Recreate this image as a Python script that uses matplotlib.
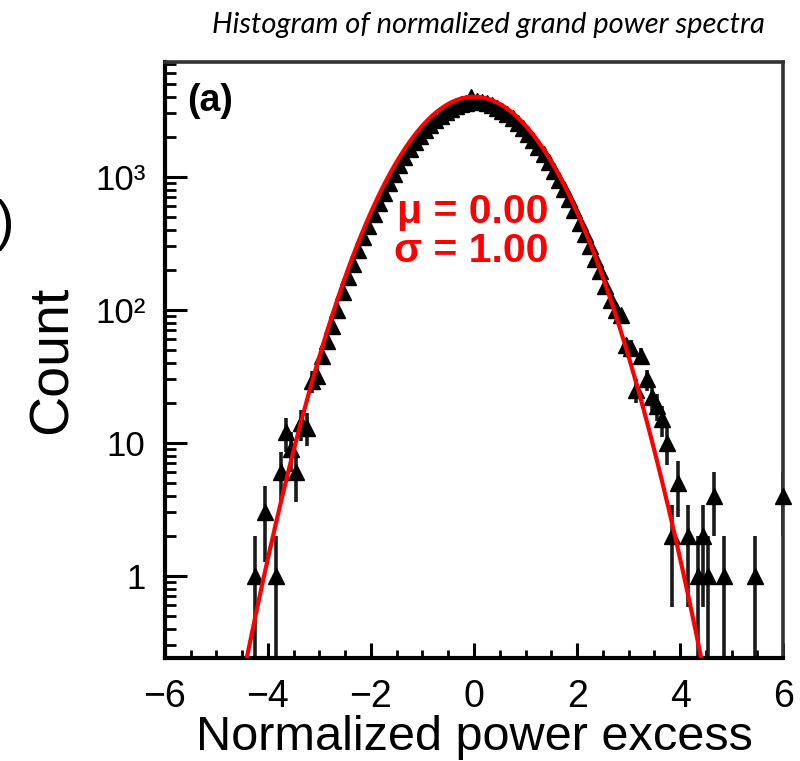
"""Histogram of normalized grand power spectra, log-scale counts with a Gaussian fit."""
import numpy as np
import matplotlib
matplotlib.use("Agg")
import matplotlib.pyplot as plt
from matplotlib.ticker import FixedLocator, LogLocator, MultipleLocator, NullFormatter

# histogram bins (centre, count)
BIN_CENTERS = [
    -4.25, -4.05, -3.85, -3.75, -3.65, -3.55, -3.45, -3.35, -3.25, -3.15,
    -3.05, -2.95, -2.85, -2.75, -2.65, -2.55, -2.45, -2.35, -2.25, -2.15,
    -2.05, -1.95, -1.85, -1.75, -1.65, -1.55, -1.45, -1.35, -1.25, -1.15,
    -1.05, -0.95, -0.85, -0.75, -0.65, -0.55, -0.45, -0.35, -0.25, -0.15,
    -0.05, 0.05, 0.15, 0.25, 0.35, 0.45, 0.55, 0.65, 0.75, 0.85,
    0.95, 1.05, 1.15, 1.25, 1.35, 1.45, 1.55, 1.65, 1.75, 1.85,
    1.95, 2.05, 2.15, 2.25, 2.35, 2.45, 2.55, 2.65, 2.75, 2.85,
    2.95, 3.05, 3.15, 3.25, 3.35, 3.45, 3.55, 3.65, 3.75, 3.85,
    3.95, 4.15, 4.35, 4.45, 4.55, 4.65, 4.85, 5.45, 6.0,
]
COUNTS = [
    1, 3, 1, 6, 12, 9, 6, 14, 13, 29,
    32, 45, 58, 75, 100, 135, 175, 222, 280, 350,
    430, 525, 635, 760, 900, 1055, 1225, 1410, 1610, 1820,
    2030, 2250, 2470, 2680, 2890, 3080, 3250, 3390, 3500, 3580,
    3950, 3700, 3650, 3560, 3450, 3300, 3130, 2950, 2750, 2540,
    2330, 2110, 1890, 1680, 1480, 1290, 1110, 950, 810, 680,
    560, 450, 370, 300, 240, 196, 150, 119, 100, 92,
    54, 52, 25, 45, 30, 22, 19, 15, 10, 2,
    5, 2, 1, 2, 1, 4, 1, 1, 4,
]

# Gaussian fit shown in red
FIT_MU = 0.00
FIT_SIGMA = 1.00
FIT_AMP = 4000.0

X_TICKS = [-6, -4, -2, 0, 2, 4, 6]
Y_TICKS = [1, 10, 100, 1000]
Y_TICK_LABELS = ["1", "10", "10²", "10³"]

TITLE = "Histogram of normalized grand power spectra"
X_LABEL = "Normalized power excess"
Y_LABEL = "Count"

plt.rcParams["font.family"] = ["Liberation Sans", "DejaVu Sans"]


def main():
    fig = plt.figure(figsize=(8.0, 7.61), dpi=100)
    ax = fig.add_axes([0.206, 0.1353, 0.773, 0.7832])

    x = np.array(BIN_CENTERS)
    y = np.array(COUNTS, dtype=float)
    err = np.sqrt(y)
    lo = np.maximum(y - err, 1e-3)
    hi = y + err

    ax.vlines(x, lo, hi, colors="#1a1a1a", linewidth=2.6, zorder=2)
    ax.plot(x, y, linestyle="none", marker="^", markersize=11,
            color="black", zorder=3, clip_on=False)

    xf = np.linspace(-6, 6, 1200)
    yf = FIT_AMP * np.exp(-0.5 * ((xf - FIT_MU) / FIT_SIGMA) ** 2)
    ax.plot(xf, yf, color="#ff0000", linewidth=3.0, zorder=4)

    ax.set_yscale("log")
    ax.set_xlim(-6, 6)
    ax.set_ylim(0.24, 7300)

    ax.xaxis.set_major_locator(FixedLocator(X_TICKS))
    ax.xaxis.set_minor_locator(MultipleLocator(0.5))
    ax.set_xticklabels([f"{t}".replace("-", "\u2212") for t in X_TICKS])
    ax.yaxis.set_major_locator(FixedLocator(Y_TICKS))
    ax.yaxis.set_minor_locator(LogLocator(base=10, subs=np.arange(2, 10)))
    ax.yaxis.set_minor_formatter(NullFormatter())
    ax.set_yticklabels(Y_TICK_LABELS)

    ax.tick_params(axis="x", which="major", direction="in", length=11, width=2.2,
                   labelsize=27, pad=15, top=False)
    ax.tick_params(axis="x", which="minor", direction="in", length=5.5, width=2.0,
                   top=False)
    ax.tick_params(axis="y", which="major", direction="in", length=16, width=2.2,
                   labelsize=25, pad=14, right=False)
    ax.tick_params(axis="y", which="minor", direction="in", length=8, width=2.0,
                   right=False)

    for side in ("left", "bottom"):
        ax.spines[side].set_linewidth(3.0)
        ax.spines[side].set_color("black")
    for side in ("top", "right"):
        ax.spines[side].set_linewidth(2.6)
        ax.spines[side].set_color("#333333")

    ax.set_xlabel(X_LABEL, fontsize=35, labelpad=0)
    ax.set_ylabel(Y_LABEL, fontsize=40, labelpad=12)

    ax.text(0.036, 0.965, "(a)", transform=ax.transAxes, fontsize=27,
            fontweight="bold", ha="left", va="top")
    ax.text(0.62, 0.748, "\u03bc = 0.00", transform=ax.transAxes, fontsize=29.5,
            fontweight="bold", color="#ff0000", ha="right", va="center")
    ax.text(0.62, 0.683, "\u03c3 = 1.00", transform=ax.transAxes, fontsize=29.5,
            fontweight="bold", color="#ff0000", ha="right", va="center")

    fig.text(0.956, 0.967, TITLE, fontsize=21, style="italic",
             family=["Lato", "DejaVu Sans"], ha="right", va="center")
    # edge of a cut-off label from the neighbouring panel
    fig.text(0.018, 0.704, ")", fontsize=40, ha="right", va="center")

    fig.savefig("out.png", dpi=100)
    plt.close(fig)


if __name__ == "__main__":
    main()
